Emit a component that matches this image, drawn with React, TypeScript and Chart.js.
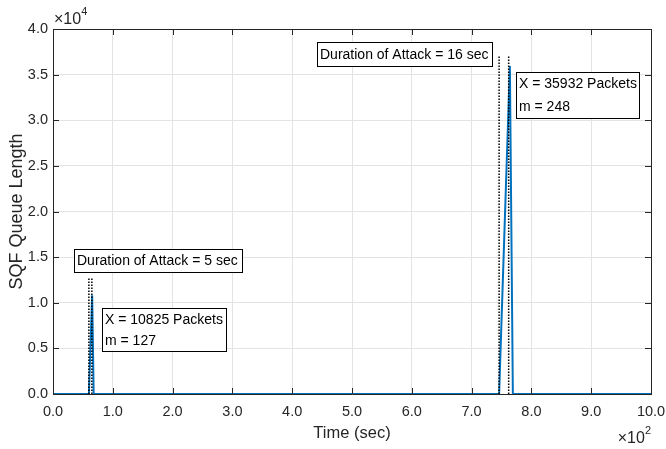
import React, { useEffect, useRef } from "react";
import { Chart, registerables } from "chart.js";

Chart.register(...registerables);

// Queue length series (time in sec, queue length in packets)
const times = [0, 60, 65.5, 68, 746, 764, 769, 1000];
const queue = [0, 0, 10825, 0, 0, 35932, 0, 0];

// Attack duration markers (vertical dotted lines)
const attackStarts = [60, 746];
const attackEnds = [65, 762];
const markerTops = [12700, 37000];

// Tick values
const xTicks = [0, 100, 200, 300, 400, 500, 600, 700, 800, 900, 1000];
const yTicks = [0, 5000, 10000, 15000, 20000, 25000, 30000, 35000, 40000];

// Annotation texts
const annotationTexts = [
  ["Duration of Attack = 5 sec"],
  ["X = 10825 Packets", "m = 127"],
  ["Duration of Attack = 16 sec"],
  ["X = 35932 Packets", "m = 248"],
];

const FONT = "'Liberation Sans', Arial, Helvetica, sans-serif";
const AXIS = "#262626";

// Box layout (pixel rects): left, top, right, bottom
const boxRects = [
  [74, 249, 242, 272],
  [102, 308, 226, 351],
  [317, 42, 492, 66],
  [516, 72, 639, 118],
];

const overlayPlugin = {
  id: "overlay",
  afterDraw(chart: any) {
    const ctx = chart.ctx as CanvasRenderingContext2D;
    const { left, right, top, bottom } = chart.chartArea;
    const xs = chart.scales.x;
    const ys = chart.scales.y;
    ctx.save();
    // frame
    ctx.strokeStyle = AXIS;
    ctx.lineWidth = 1;
    ctx.beginPath();
    ctx.moveTo(left + 0.5, bottom + 0.5);
    ctx.lineTo(left + 0.5, top + 0.5);
    ctx.lineTo(right + 0.5, top + 0.5);
    ctx.lineTo(right + 0.5, bottom + 0.5);
    ctx.stroke();
    // inner ticks
    const tl = 6;
    ctx.beginPath();
    xTicks.forEach((v) => {
      const px = Math.round(xs.getPixelForValue(v)) + 0.5;
      ctx.moveTo(px, bottom);
      ctx.lineTo(px, bottom - tl);
      ctx.moveTo(px, top);
      ctx.lineTo(px, top + tl);
    });
    yTicks.forEach((v) => {
      const py = Math.round(ys.getPixelForValue(v)) + 0.5;
      ctx.moveTo(left, py);
      ctx.lineTo(left + tl, py);
      ctx.moveTo(right, py);
      ctx.lineTo(right - tl, py);
    });
    ctx.stroke();

    // annotation boxes
    ctx.font = `14px ${FONT}`;
    ctx.textBaseline = "middle";
    ctx.textAlign = "left";
    annotationTexts.forEach((lines, i) => {
      const [l, t, r, b] = boxRects[i];
      ctx.fillStyle = "#ffffff";
      ctx.fillRect(l, t, r - l, b - t);
      ctx.strokeStyle = "#000000";
      ctx.lineWidth = 1;
      ctx.strokeRect(l + 0.5, t + 0.5, r - l, b - t);
      ctx.fillStyle = "#000000";
      const h = (b - t) / lines.length;
      lines.forEach((s, j) => {
        ctx.fillText(s, l + 3, t + h * j + h / 2 + 1);
      });
    });

    // exponent labels
    ctx.fillStyle = AXIS;
    ctx.textBaseline = "alphabetic";
    ctx.font = `16px ${FONT}`;
    ctx.textAlign = "left";
    ctx.fillText("\u00d710", left + 1, 24);
    const w1 = ctx.measureText("\u00d710").width;
    ctx.font = `11px ${FONT}`;
    ctx.fillText("4", left + 1 + w1, 15);

    ctx.font = `11px ${FONT}`;
    const wsup = ctx.measureText("2").width;
    ctx.font = `16px ${FONT}`;
    const wb = ctx.measureText("\u00d710").width;
    const startX = right - wsup - wb;
    ctx.fillText("\u00d710", startX, 443);
    ctx.font = `11px ${FONT}`;
    ctx.fillText("2", startX + wb, 434);
    ctx.restore();
  },
};

export default function App() {
  const ref = useRef<HTMLCanvasElement | null>(null);
  useEffect(() => {
    if (!ref.current) return;
    const blue = times.map((t, i) => ({ x: t, y: queue[i] }));
    const dotted: any[] = [];
    attackStarts.forEach((s, i) => {
      [s, attackEnds[i]].forEach((xv) => {
        dotted.push({
          data: [
            { x: xv, y: 0 },
            { x: xv, y: markerTops[i] },
          ],
          borderColor: "#000000",
          borderWidth: 1.5,
          borderDash: [1.5, 1.5],
          pointRadius: 0,
          order: 0,
        });
      });
    });
    const chart = new Chart(ref.current, {
      type: "line",
      data: {
        datasets: [
          {
            data: blue,
            borderColor: "#0072BD",
            borderWidth: 2,
            pointRadius: 0,
            tension: 0,
            order: 1,
          },
          ...dotted,
        ],
      },
      options: {
        responsive: false,
        animation: false,
        devicePixelRatio: 1,
        layout: { padding: { top: 29, right: 15, left: 0, bottom: 0 } },
        plugins: {
          legend: { display: false },
          tooltip: { enabled: false },
        },
        scales: {
          x: {
            type: "linear",
            min: 0,
            max: 1000,
            afterFit: (s: any) => {
              s.height = 55;
              s.paddingLeft = 0;
              s.paddingRight = 0;
            },
            afterBuildTicks: (s: any) => {
              s.ticks = xTicks.map((v) => ({ value: v }));
            },
            ticks: {
              autoSkip: false,
              maxRotation: 0,
              padding: 9,
              color: AXIS,
              font: { family: FONT, size: 14.5 },
              callback: (v: any) => (Number(v) / 100).toFixed(1),
            },
            grid: { color: "#e3e3e3", drawTicks: false, lineWidth: 1 },
            border: { display: true, color: AXIS, width: 1 },
            title: {
              display: true,
              text: "Time (sec)",
              color: AXIS,
              font: { family: FONT, size: 16.5 },
              padding: { top: 0, bottom: 6 },
            },
          },
          y: {
            type: "linear",
            min: 0,
            max: 40000,
            afterFit: (s: any) => {
              s.width = 53;
              s.paddingTop = 0;
              s.paddingBottom = 0;
            },
            afterBuildTicks: (s: any) => {
              s.ticks = yTicks.map((v) => ({ value: v }));
            },
            ticks: {
              autoSkip: false,
              padding: 5,
              color: AXIS,
              font: { family: FONT, size: 14.5 },
              callback: (v: any) => (Number(v) / 10000).toFixed(1),
            },
            grid: { color: "#e3e3e3", drawTicks: false, lineWidth: 1 },
            border: { display: true, color: AXIS, width: 1 },
            title: {
              display: true,
              text: "SQF Queue Length",
              color: AXIS,
              font: { family: FONT, size: 18 },
              padding: { top: 6, bottom: 0 },
            },
          },
        },
      },
      plugins: [overlayPlugin],
    });
    return () => chart.destroy();
  }, []);
  return (
    <div style={{ position: "fixed", left: 0, top: 0, width: 666, height: 449, background: "#fff" }}>
      <canvas ref={ref} width={666} height={449} style={{ width: 666, height: 449 }} />
    </div>
  );
}
